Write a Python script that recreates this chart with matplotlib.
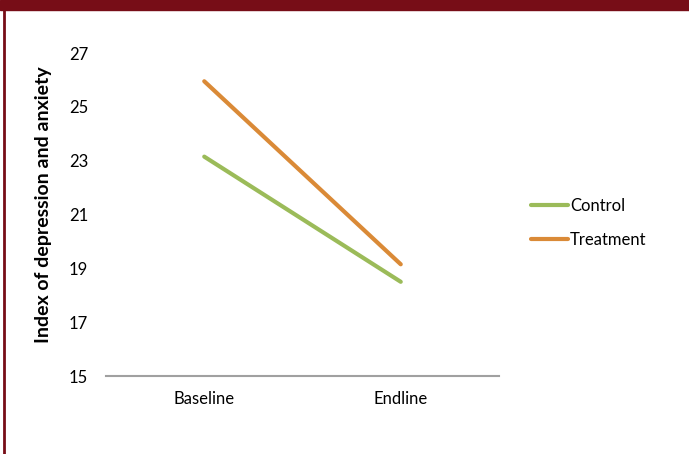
import matplotlib
matplotlib.use("Agg")
import matplotlib.pyplot as plt
from matplotlib.patches import Rectangle
from matplotlib.lines import Line2D

categories = ["Baseline", "Endline"]
control = [23.15, 18.5]
treatment = [25.95, 19.15]
yticks = [15, 17, 19, 21, 23, 25, 27]

plt.rcParams['font.family'] = ['Lato', 'DejaVu Sans']

fig = plt.figure(figsize=(6.89, 4.54), dpi=100)
W, H = 689, 454
ax = fig.add_axes([106 / W, 1 - 376 / H, (499 - 106) / W, (376 - 53) / H])

x = [0.5, 1.5]
ax.plot(x, control, color="#9BBB59", lw=3, solid_capstyle="round", label="Control")
ax.plot(x, treatment, color="#DA8A37", lw=3, solid_capstyle="round", label="Treatment")

ax.set_xlim(0, 2)
ax.set_ylim(15, 27)
ax.set_xticks(x)
ax.set_xticklabels(categories, fontsize=12)
ax.set_yticks(yticks)
ax.set_yticklabels([str(v) for v in yticks], fontsize=12)
ax.tick_params(length=0, pad=13, axis="y")
ax.tick_params(length=0, pad=11, axis="x")
for s in ["top", "right", "left"]:
    ax.spines[s].set_visible(False)
ax.spines["bottom"].set_color("#A0A0A0")
ax.spines["bottom"].set_linewidth(1.5)
ax.set_ylabel("Index of depression and anxiety", fontsize=14, fontweight="bold")
ax.yaxis.set_label_coords(-54 / 393, 0.53)

fig.legend(loc="center left", bbox_to_anchor=(516 / W, 1 - 223 / H), frameon=False,
           fontsize=12, handlelength=2.2, handletextpad=0.15, labelspacing=1.12)

# frame decorations
fig.add_artist(Rectangle((0, 1 - 10 / H), 1, 10 / H, transform=fig.transFigure,
                         color="#770D17", zorder=10))
fig.add_artist(Line2D([4 / W, 4 / W], [0, 1], transform=fig.transFigure,
                      color="#770D17", lw=2, zorder=10))

fig.savefig("out.png", dpi=100)
